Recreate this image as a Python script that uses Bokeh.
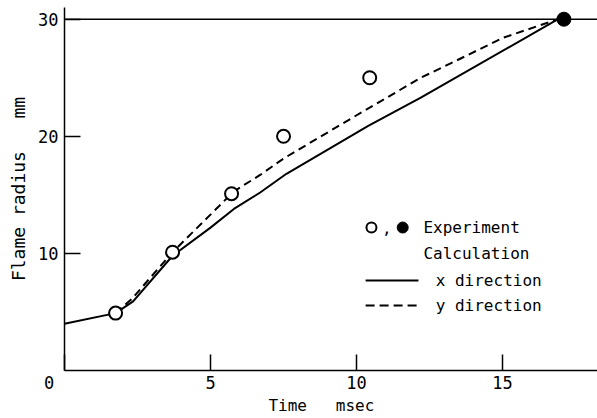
from bokeh.plotting import figure
from bokeh.models import Range1d, Span, FixedTicker
from bokeh.core.properties import value
from bokeh.embed import file_html
from bokeh.resources import INLINE

# ---- data ----
exp_open_t = [1.75, 3.7, 5.72, 7.5, 10.45]
exp_open_r = [4.9, 10.1, 15.1, 20.0, 25.0]
exp_fill_t = [17.1]
exp_fill_r = [30.0]

calc_x_t = [0.0, 1.75, 2.35, 3.7, 5.0, 5.8, 6.7, 7.6, 10.4, 12.2, 16.9]
calc_x_r = [4.0, 4.9, 5.9, 9.8, 12.2, 13.8, 15.2, 16.8, 20.9, 23.3, 30.0]

calc_y_t = [1.75, 2.3, 3.7, 5.8, 6.7, 7.5, 9.8, 12.2, 13.2, 15.0, 16.9]
calc_y_r = [4.9, 6.1, 10.1, 15.3, 16.7, 18.1, 21.5, 25.0, 26.2, 28.4, 30.0]

x_ticks = [0, 5, 10, 15]
y_ticks = [10, 20, 30]
NB = "\u00a0"
x_tick_labels = {0: "0" + NB * 3}

legend_texts = ["Experiment", "Calculation", "x direction", "y direction"]

FONT = "DejaVu Sans Mono"

p = figure(width=597, height=418, output_backend="svg", toolbar_location=None,
           x_range=Range1d(0, 18.25), y_range=Range1d(0, 31),
           min_border_left=64, min_border_right=0, min_border_top=7, min_border_bottom=48)
p.outline_line_color = None
p.grid.visible = False
p.background_fill_color = "white"
p.border_fill_color = "white"

for ax in (p.xaxis[0], p.yaxis[0]):
    ax.major_tick_in = 16
    ax.major_tick_out = 0
    ax.minor_tick_in = 0
    ax.minor_tick_out = 0
    ax.axis_line_width = 1.5
    ax.major_tick_line_width = 1.5
    ax.axis_line_color = "black"
    ax.major_tick_line_color = "black"
    ax.major_label_text_font = FONT
    ax.major_label_text_font_size = "17px"
    ax.major_label_text_color = "black"
    ax.axis_label_text_font = FONT
    ax.axis_label_text_font_style = "normal"
    ax.axis_label_text_color = "black"

p.xaxis.ticker = FixedTicker(ticks=x_ticks)
p.xaxis.major_label_overrides = x_tick_labels
p.yaxis.ticker = FixedTicker(ticks=y_ticks)
p.xaxis.major_label_standoff = 2
p.yaxis.major_label_standoff = 6
p.xaxis.axis_label = "Time" + NB * 3 + "msec" + NB * 2
p.yaxis.axis_label = "Flame radius" + NB * 3 + "mm"
p.xaxis.axis_label_text_font_size = "16px"
p.yaxis.axis_label_text_font_size = "18px"
p.xaxis.axis_label_standoff = 0
p.yaxis.axis_label_standoff = 6

top = Span(location=30, dimension="width", line_color="black", line_width=1.5)
p.add_layout(top)

# calculation lines
p.line(calc_x_t, calc_x_r, line_color="black", line_width=2)
p.line(calc_y_t, calc_y_r, line_color="black", line_width=2, line_dash="8 5")

# experiment
p.scatter(exp_open_t, exp_open_r, size=13, marker="circle", fill_color="white",
          line_color="black", line_width=2)
p.scatter(exp_fill_t, exp_fill_r, size=14, marker="circle", fill_color="black",
          line_color="black", line_width=1)

# ---- manual legend (layout positions) ----
ly = [12.21, 9.99, 7.69, 5.55]
p.scatter([10.51], [ly[0]], size=10, marker="circle", fill_color="white",
          line_color="black", line_width=2)
p.scatter([11.58], [ly[0]], size=11, marker="circle", fill_color="black",
          line_color="black")
p.text([11.04], [ly[0]], text=[","], text_font=value(FONT), text_font_size="16px",
       text_align="center", text_baseline="middle", text_color="black")
p.text([12.29, 12.29, 12.71, 12.71], ly, text=legend_texts,
       text_font=value(FONT), text_font_size="16px", text_align="left",
       text_baseline="middle", text_color="black")
p.line([10.31, 12.12], [ly[2], ly[2]], line_color="black", line_width=2)
p.line([10.31, 12.12], [ly[3], ly[3]], line_color="black", line_width=2, line_dash="9 5")

open("out.html", "w").write(file_html(p, INLINE))
